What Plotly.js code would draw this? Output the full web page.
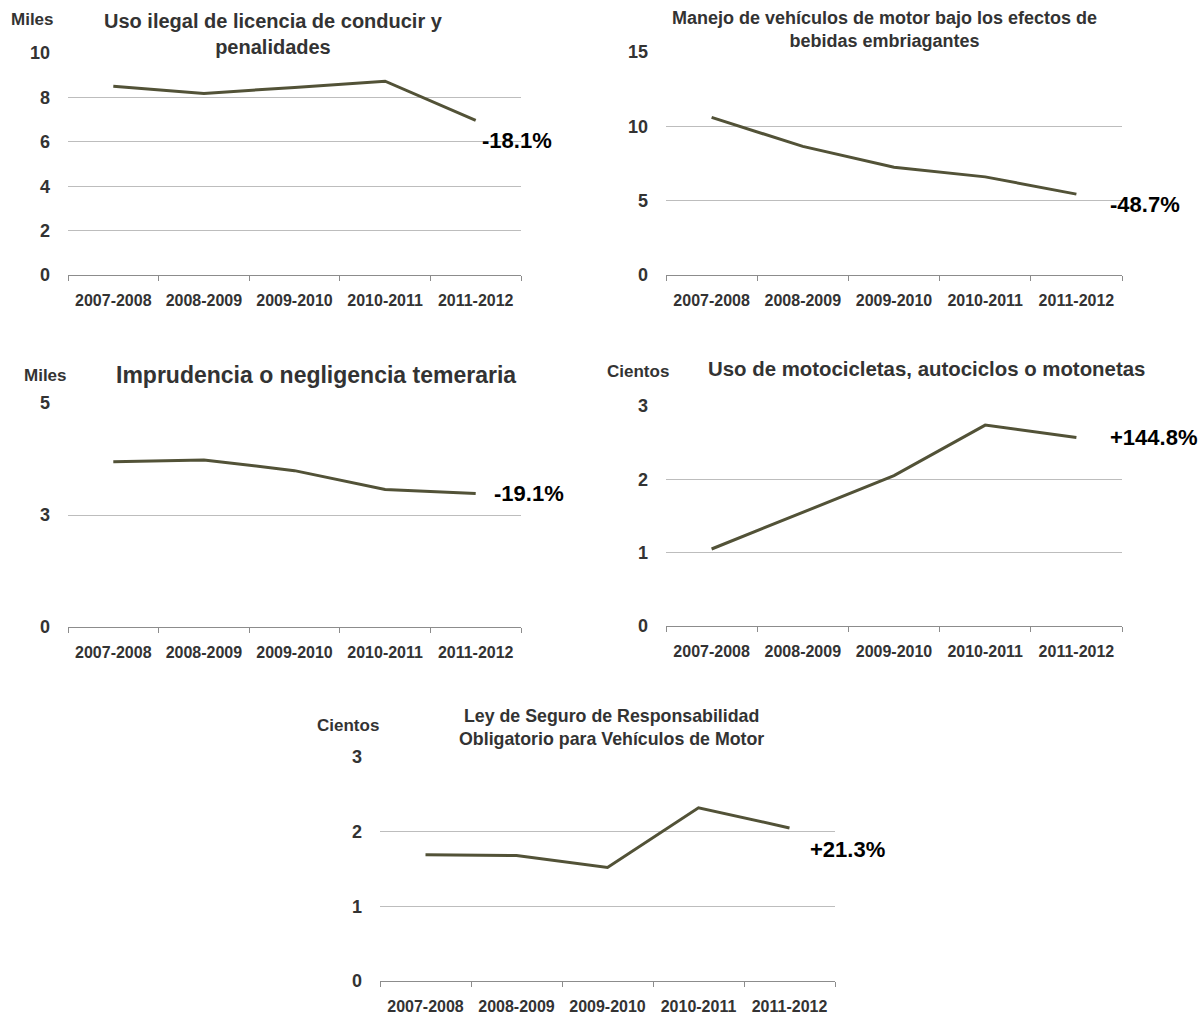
<!DOCTYPE html>
<html>
<head>
<meta charset="utf-8">
<script src="https://cdn.plot.ly/plotly-3.0.1.min.js"></script>
<style>
html,body{margin:0;padding:0;background:#fff;}
#chart{width:1198px;height:1015px;}
</style>
</head>
<body>
<div id="chart"></div>
<script>
// ---- data ----
const categories = ['2007-2008', '2008-2009', '2009-2010', '2010-2011', '2011-2012'];
const licencia = [8.50, 8.18, 8.45, 8.73, 6.96];       // Miles
const embriagantes = [10.6, 8.65, 7.25, 6.6, 5.44];    // Miles
const imprudencia = [3.69, 3.73, 3.49, 3.07, 2.98];    // Miles
const motocicletas = [1.05, 1.55, 2.05, 2.74, 2.57];   // Cientos
const seguro = [1.69, 1.68, 1.52, 2.32, 2.05];         // Cientos

const titles = [
  'Uso ilegal de licencia de conducir y<br>penalidades',
  'Manejo de vehículos de motor bajo los efectos de<br>bebidas embriagantes',
  'Imprudencia o negligencia temeraria',
  'Uso de motocicletas, autociclos o motonetas',
  'Ley de Seguro de Responsabilidad<br>Obligatorio para Vehículos de Motor'
];
const units = ['Miles', '', 'Miles', 'Cientos', 'Cientos'];
const changes = ['-18.1%', '-48.7%', '-19.1%', '+144.8%', '+21.3%'];
const yTickVals = [[0, 2, 4, 6, 8, 10], [0, 5, 10, 15], [0, 2.5, 5], [0, 1, 2, 3], [0, 1, 2, 3]];
const yTickText = [['0', '2', '4', '6', '8', '10'], ['0', '5', '10', '15'], ['0', '3', '5'], ['0', '1', '2', '3'], ['0', '1', '2', '3']];
const yMax = [10, 15, 5, 3, 3];

// ---- layout helpers ----
const W = 1198, H = 1015;
const px = x => x / W;
const py = y => 1 - y / H;
const FONT = '"Liberation Sans", Arial, sans-serif';
const LINE = '#525237';
const TXT = '#333333';

// panel boxes in pixels: [x0, x1, yTop, yBottom]
const boxes = [
  [68, 521, 53, 275],
  [666, 1122, 52, 275],
  [68, 521, 403, 627],
  [666, 1122, 406, 626],
  [380, 835, 757, 981]
];
const titlePos = [[273, 34, 20], [884, 30, 18], [316, 375, 23], [926, 369, 20.4], [611, 727, 17.8]];
const unitPos = [[32, 20], null, [45, 375], [638, 371], [348, 725]];
const changeOff = [[4, 20], [32, 10], [16, 0], [32, 0], [18, 22]];
const series = [licencia, embriagantes, imprudencia, motocicletas, seguro];

const data = [];
const layout = {
  width: W, height: H,
  margin: {l: 0, r: 0, t: 0, b: 0},
  paper_bgcolor: '#fff', plot_bgcolor: '#fff',
  showlegend: false,
  font: {family: FONT, color: TXT},
  annotations: []
};

series.forEach((vals, i) => {
  const n = i === 0 ? '' : String(i + 1);
  const b = boxes[i];
  data.push({
    type: 'scatter', mode: 'lines',
    x: categories, y: vals,
    xaxis: 'x' + n, yaxis: 'y' + n,
    line: {color: LINE, width: 3},
    hoverinfo: 'skip'
  });
  layout['xaxis' + n] = {
    domain: [px(b[0]), px(b[1])],
    anchor: 'y' + n,
    type: 'category',
    range: [-0.5, 4.5],
    tickson: 'boundaries',
    ticks: 'outside', ticklen: 5, tickwidth: 1, tickcolor: '#8c8c8c',
    showline: true, linecolor: '#8c8c8c', linewidth: 1,
    showgrid: false, zeroline: false,
    tickangle: 0,
    tickfont: {family: FONT, size: 16, color: TXT, weight: 'bold'},
    ticklabelstandoff: 11,
    fixedrange: true
  };
  layout['yaxis' + n] = {
    domain: [py(b[3]), py(b[2])],
    anchor: 'x' + n,
    range: [0, yMax[i]],
    tickmode: 'array', tickvals: yTickVals[i], ticktext: yTickText[i],
    showgrid: true, gridcolor: '#bdbdbd', gridwidth: 1,
    zeroline: false, showline: false, ticks: '',
    tickfont: {family: FONT, size: 18, color: TXT, weight: 'bold'},
    ticklabelstandoff: 17,
    fixedrange: true
  };
  const t = titlePos[i];
  layout.annotations.push({
    xref: 'paper', yref: 'paper', x: px(t[0]), y: py(t[1]),
    xanchor: 'center', yanchor: 'middle', showarrow: false,
    text: titles[i], align: 'center',
    font: {family: FONT, size: t[2], color: TXT, weight: 'bold'}
  });
  if (units[i]) {
    const u = unitPos[i];
    layout.annotations.push({
      xref: 'paper', yref: 'paper', x: px(u[0]), y: py(u[1]),
      xanchor: 'center', yanchor: 'middle', showarrow: false,
      text: units[i],
      font: {family: FONT, size: 17, color: TXT, weight: 'bold'}
    });
  }
  const c = changeOff[i];
  layout.annotations.push({
    xref: 'x' + n, yref: 'y' + n,
    x: categories[categories.length - 1], y: vals[vals.length - 1],
    xanchor: 'left', yanchor: 'middle', showarrow: false,
    xshift: c[0], yshift: -c[1],
    text: changes[i],
    font: {family: FONT, size: 22, color: '#000', weight: 'bold'}
  });
});

Plotly.newPlot('chart', data, layout, {staticPlot: true, displayModeBar: false});
</script>
</body>
</html>
